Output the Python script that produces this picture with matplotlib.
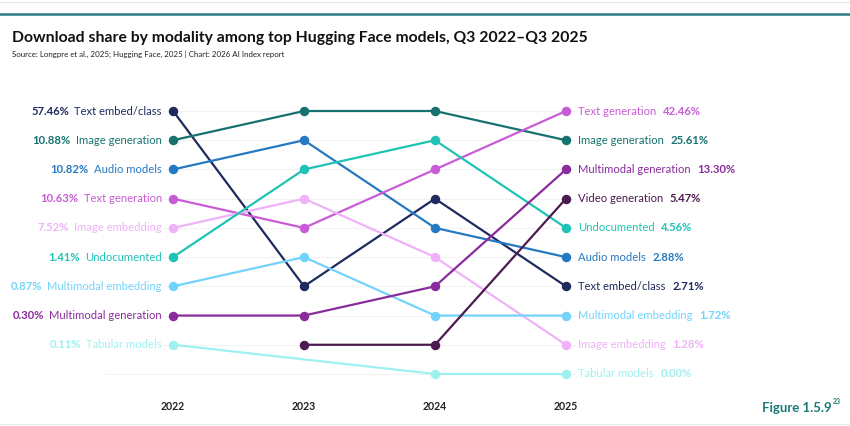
import matplotlib.pyplot as plt
from matplotlib.offsetbox import TextArea, HPacker, AnnotationBbox
from matplotlib.lines import Line2D

plt.rcParams['font.family'] = ['Lato', 'DejaVu Sans']

years = ["2022", "2023", "2024", "2025"]

modalities = [
    "Text embed/class", "Image generation", "Audio models", "Text generation",
    "Image embedding", "Undocumented", "Multimodal embedding",
    "Multimodal generation", "Tabular models", "Video generation",
]

# rank of each modality in each year (None = not in the ranking that year)
ranks = {
    "Text embed/class":      [1, 7, 4, 7],
    "Image generation":      [2, 1, 1, 2],
    "Audio models":          [3, 2, 5, 6],
    "Text generation":       [4, 5, 3, 1],
    "Image embedding":       [5, 4, 6, 9],
    "Undocumented":          [6, 3, 2, 5],
    "Multimodal embedding":  [7, 6, 8, 8],
    "Multimodal generation": [8, 8, 7, 3],
    "Tabular models":        [9, None, 10, 10],
    "Video generation":      [None, 9, 9, 4],
}

share_2022 = {
    "Text embed/class": "57.46%", "Image generation": "10.88%",
    "Audio models": "10.82%", "Text generation": "10.63%",
    "Image embedding": "7.52%", "Undocumented": "1.41%",
    "Multimodal embedding": "0.87%", "Multimodal generation": "0.30%",
    "Tabular models": "0.11%",
}
share_2025 = {
    "Text generation": "42.46%", "Image generation": "25.61%",
    "Multimodal generation": "13.30%", "Video generation": "5.47%",
    "Undocumented": "4.56%", "Audio models": "2.88%",
    "Text embed/class": "2.71%", "Multimodal embedding": "1.72%",
    "Image embedding": "1.28%", "Tabular models": "0.00%",
}

colors = {
    "Text embed/class": "#1f2b5e",
    "Image generation": "#16716f",
    "Audio models": "#2479c2",
    "Text generation": "#c95bd6",
    "Image embedding": "#efb2f8",
    "Undocumented": "#1fc3b5",
    "Multimodal embedding": "#72d4fb",
    "Multimodal generation": "#8a2b9c",
    "Tabular models": "#9ff0f1",
    "Video generation": "#4b1b4f",
}

LABEL_FS = 8.1

fig = plt.figure(figsize=(8.5, 4.26), dpi=100)
ax = fig.add_axes([105 / 850, 37.4 / 426, 495 / 850, 292.2 / 426])
ax.set_xlim(-0.52, 3.26)
ax.set_ylim(10.5, 0.5)
for s in ax.spines.values():
    s.set_visible(False)
ax.set_yticks([])
ax.set_xticks(range(len(years)))
ax.set_xticklabels(years, fontsize=7.6, fontweight="bold", color="#222222")
ax.tick_params(axis="x", length=0, pad=9)

# faint row guides
for r in range(1, 11):
    ax.axhline(r, color="#f3f3f3", lw=0.8, zorder=0)

for name in modalities:
    pts = [(i, r) for i, r in enumerate(ranks[name]) if r is not None]
    xs = [p[0] for p in pts]
    ys = [p[1] for p in pts]
    c = colors[name]
    ax.plot(xs, ys, color=c, lw=1.6, marker="o", markersize=5.8, zorder=3)

    if name in share_2022:
        box = HPacker(children=[
            TextArea(share_2022[name], textprops=dict(color=c, fontsize=LABEL_FS, fontweight="bold")),
            TextArea(name, textprops=dict(color=c, fontsize=LABEL_FS)),
        ], sep=4, pad=0, align="baseline")
        ab = AnnotationBbox(box, (0, ranks[name][0]), xybox=(-8, 0), xycoords="data",
                            boxcoords="offset points", box_alignment=(1, 0.5),
                            frameon=True, pad=0.1, zorder=2,
                            bboxprops=dict(fc="white", ec="none"))
        ax.add_artist(ab)
    if name in share_2025:
        box = HPacker(children=[
            TextArea(name, textprops=dict(color=c, fontsize=LABEL_FS)),
            TextArea(share_2025[name], textprops=dict(color=c, fontsize=LABEL_FS, fontweight="bold")),
        ], sep=5, pad=0, align="baseline")
        ab = AnnotationBbox(box, (3, ranks[name][3]), xybox=(8.5, 0), xycoords="data",
                            boxcoords="offset points", box_alignment=(0, 0.5),
                            frameon=True, pad=0.1, zorder=2,
                            bboxprops=dict(fc="white", ec="none"))
        ax.add_artist(ab)

# title and source
fig.text(12 / 850, 1 - 38 / 426, "Download share by modality among top Hugging Face models, Q3 2022\u2013Q3 2025",
         fontsize=11.3, fontweight="bold", color="#111111", va="center", ha="left")
fig.text(12 / 850, 1 - 54 / 426, "Source: Longpre et al., 2025; Hugging Face, 2025 | Chart: 2026 AI Index report",
         fontsize=5.65, color="#222222", va="center", ha="left")

# figure number
fig.text(832 / 850, 1 - 408 / 426, "Figure 1.5.9", fontsize=9.5, fontweight="bold",
         color="#1b7a78", ha="right", va="center")
fig.text(833 / 850, 1 - 402 / 426, "23", fontsize=5, fontweight="bold",
         color="#1b7a78", ha="left", va="center")

# top rule and borders
fig.add_artist(Line2D([0, 1], [1 - 14 / 426, 1 - 14 / 426], color="#2b7c80", lw=1.8))
fig.add_artist(Line2D([0, 1], [1 - 2 / 426, 1 - 2 / 426], color="#e6e6e6", lw=0.8))
fig.add_artist(Line2D([0, 1], [1 - 424 / 426, 1 - 424 / 426], color="#e6e6e6", lw=0.8))

fig.savefig("out.png", dpi=100)
